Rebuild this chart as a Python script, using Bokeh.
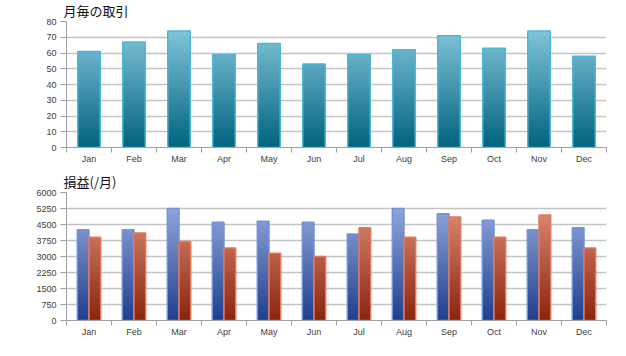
import numpy as np
from bokeh.plotting import figure
from bokeh.layouts import column
from bokeh.models import FixedTicker, Range1d
from bokeh.embed import file_html
from bokeh.resources import INLINE

months = ["Jan", "Feb", "Mar", "Apr", "May", "Jun", "Jul", "Aug", "Sep", "Oct", "Nov", "Dec"]
trades = [61, 67, 74, 59, 66, 53, 59, 62, 71, 63, 74, 58]
profit = [4250, 4250, 5250, 4600, 4650, 4600, 4050, 5250, 5000, 4700, 4250, 4350]
loss = [3900, 4100, 3700, 3400, 3150, 3000, 4350, 3900, 4850, 3900, 4950, 3400]
top_ticks = [0, 10, 20, 30, 40, 50, 60, 70, 80]
bottom_ticks = [0, 750, 1500, 2250, 3000, 3750, 4500, 5250, 6000]
title_top = "月毎の取引"
title_bottom = "損益(/月)"

LABEL_FONT = "Liberation Sans"
TITLE_FONT = "Noto Sans CJK JP"


def hexc(rgb):
    return "#%02x%02x%02x" % tuple(int(round(c)) for c in rgb)


def gradient_bars(p, xs, vals, width, ymax, c0, c1, outline, nbands=48):
    step = ymax / nbands
    xs_b, top, cols = [], [], []
    for x, v in zip(xs, vals):
        nk = int(np.ceil(v / step))
        # draw from the top band down, each from 0, so no seams remain
        for k in range(nk - 1, -1, -1):
            b = k * step
            t = min((k + 1) * step, v)
            f = ((b + t) / 2) / ymax
            cols.append(hexc([c0[i] + (c1[i] - c0[i]) * f for i in range(3)]))
            xs_b.append(x)
            top.append(t)
    p.vbar(x=xs_b, bottom=0, top=top, width=width, fill_color=cols, line_color=None)
    p.vbar(x=list(xs), bottom=0, top=list(vals), width=width, fill_color=None,
           line_color=outline, line_width=1.5)


def base_fig(height, ymax, ticks, border_top, title):
    n = len(months)
    p = figure(width=616, height=height, output_backend="svg", toolbar_location=None,
               x_range=Range1d(0, n), y_range=Range1d(0, ymax),
               min_border_left=66, min_border_right=10, min_border_top=border_top,
               min_border_bottom=24, title=title)
    p.title.text_font = TITLE_FONT
    p.title.text_font_size = "13px"
    p.title.text_font_style = "normal"
    p.title.text_color = "#111111"
    p.title.align = "left"
    p.title.vertical_align = "top"
    p.title.offset = -3
    p.title.standoff = 0
    p.outline_line_color = None
    p.xgrid.grid_line_color = None
    p.ygrid.ticker = FixedTicker(ticks=ticks)
    p.ygrid.grid_line_color = "#c4c4c4"
    p.ygrid.grid_line_width = 1.5
    p.yaxis.ticker = FixedTicker(ticks=ticks)
    p.yaxis.axis_line_color = "#a0a0a0"
    p.yaxis.major_tick_line_color = "#a0a0a0"
    p.yaxis.major_tick_out = 6
    p.yaxis.major_tick_in = 0
    p.yaxis.minor_tick_line_color = None
    p.yaxis.major_label_standoff = 4
    centers = [i + 0.5 for i in range(n)]
    p.xaxis.ticker = FixedTicker(ticks=centers, minor_ticks=list(range(n + 1)))
    p.xaxis.major_label_overrides = {c: m for c, m in zip(centers, months)}
    p.xaxis.axis_line_color = "#a0a0a0"
    p.xaxis.major_tick_line_color = None
    p.xaxis.major_tick_out = 5
    p.xaxis.major_tick_in = 0
    p.xaxis.minor_tick_line_color = "#a0a0a0"
    p.xaxis.minor_tick_out = 5
    p.xaxis.minor_tick_in = 0
    p.xaxis.major_label_standoff = 1
    for ax in (p.xaxis, p.yaxis):
        ax.major_label_text_font = LABEL_FONT
        ax.major_label_text_font_size = "9px"
        ax.major_label_text_color = "#404040"
    return p


xs = [i + 0.5 for i in range(len(months))]

# Top chart
p1 = base_fig(171, 80, top_ticks, 20, title_top)
gradient_bars(p1, xs, trades, 0.5, 80, (0, 98, 126), (138, 204, 224), "#4db7d7")

# Bottom chart
p2 = base_fig(173, 6000, bottom_ticks, 21, title_bottom)
gradient_bars(p2, [x - 0.13 for x in xs], profit, 0.26, 6000, (30, 62, 140), (160, 180, 228), "#7192e0")
gradient_bars(p2, [x + 0.13 for x in xs], loss, 0.26, 6000, (136, 36, 12), (232, 152, 132), "#e6765c")

layout = column(p1, p2, spacing=0)
open("out.html", "w").write(file_html(layout, INLINE))
